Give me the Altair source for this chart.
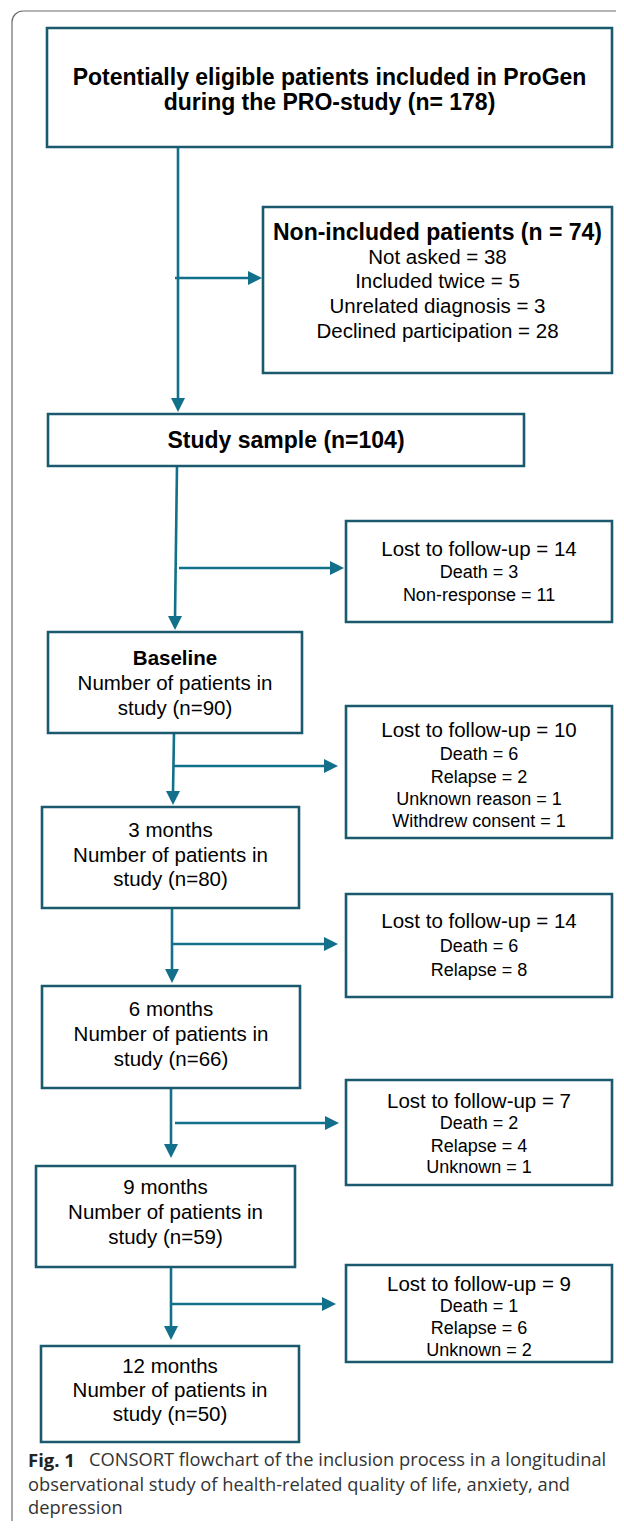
import altair as alt
import pandas as pd

# ---------------- data ----------------
eligible_n = 178
non_included_n = 74
non_included_reasons = ["Not asked", "Included twice", "Unrelated diagnosis", "Declined participation"]
non_included_counts = [38, 5, 3, 28]
study_n = 104
stages = ["Baseline", "3 months", "6 months", "9 months", "12 months"]
stage_n = [90, 80, 66, 59, 50]
lost_totals = [14, 10, 14, 7, 9]
lost_reasons = [
    ["Death", "Non-response"],
    ["Death", "Relapse", "Unknown reason", "Withdrew consent"],
    ["Death", "Relapse"],
    ["Death", "Relapse", "Unknown"],
    ["Death", "Relapse", "Unknown"],
]
lost_counts = [[3, 11], [6, 2, 1, 1], [6, 8], [2, 4, 1], [1, 6, 2]]

# ---------------- layout (page pixels) ----------------
BOX = "#1b5a6e"
ARROW = "#12708a"

top_box = dict(x=47, x2=612, y=28, y2=147, lines=[78, 103])
excl_box = dict(x=263, x2=612, y=207, y2=373, lines=[233, 258, 282, 307, 332])
sample_box = dict(x=48, x2=524, y=414, y2=466, lines=[441])
stage_boxes = [
    dict(x=48, x2=302, y=632, y2=733, lines=[659, 684, 709]),
    dict(x=42, x2=299, y=807, y2=908, lines=[831, 856, 880]),
    dict(x=42, x2=300, y=986, y2=1088, lines=[1010, 1035, 1060]),
    dict(x=36, x2=295, y=1166, y2=1267, lines=[1188, 1213, 1238]),
    dict(x=41, x2=299, y=1346, y2=1442, lines=[1367, 1391, 1415]),
]
lost_boxes = [
    dict(x=346, x2=612, y=521, y2=622, lines=[550, 573, 596]),
    dict(x=346, x2=612, y=706, y2=838, lines=[731, 755, 778, 800, 822]),
    dict(x=346, x2=612, y=894, y2=997, lines=[922, 947, 971]),
    dict(x=346, x2=612, y=1080, y2=1185, lines=[1102, 1124, 1147, 1168]),
    dict(x=346, x2=612, y=1265, y2=1362, lines=[1285, 1307, 1329, 1351]),
]
# trunks: (x_top, y_top, x_tip, y_tip); branches: (x_start, y, x_tip)
trunks = [(178, 147, 178, 412), (177, 466, 175, 630), (174, 733, 173, 805),
          (172, 908, 172, 983), (171, 1086, 171, 1158), (171, 1267, 171, 1340)]
branches = [(175, 278, 262), (179, 568, 344), (174, 766, 338), (173, 944, 338),
            (175, 1123, 339), (172, 1304, 336)]

BOLD_FS = 23
MAIN_FS = 20.5
SUB_FS = 18

# ---------------- build tables ----------------
boxes = [top_box, excl_box, sample_box] + stage_boxes + lost_boxes
box_df = pd.DataFrame([{k: b[k] for k in ("x", "x2", "y", "y2")} for b in boxes])

texts = []

def cx(b):
    return (b["x"] + b["x2"]) / 2

texts.append(dict(x=cx(top_box), y=top_box["lines"][0], t="Potentially eligible patients included in ProGen", fs=BOLD_FS, w="bold"))
texts.append(dict(x=cx(top_box), y=top_box["lines"][1], t=f"during the PRO-study (n= {eligible_n})", fs=BOLD_FS, w="bold"))
texts.append(dict(x=cx(excl_box), y=excl_box["lines"][0], t=f"Non-included patients (n = {non_included_n})", fs=BOLD_FS, w="bold"))
for i, (r, c) in enumerate(zip(non_included_reasons, non_included_counts)):
    texts.append(dict(x=cx(excl_box), y=excl_box["lines"][i + 1], t=f"{r} = {c}", fs=MAIN_FS, w="normal"))
texts.append(dict(x=cx(sample_box), y=sample_box["lines"][0], t=f"Study sample (n={study_n})", fs=BOLD_FS, w="bold"))
for i, (s, n) in enumerate(zip(stages, stage_n)):
    b = stage_boxes[i]
    texts.append(dict(x=cx(b), y=b["lines"][0], t=s, fs=MAIN_FS, w="bold" if i == 0 else "normal"))
    texts.append(dict(x=cx(b), y=b["lines"][1], t="Number of patients in", fs=MAIN_FS, w="normal"))
    texts.append(dict(x=cx(b), y=b["lines"][2], t=f"study (n={n})", fs=MAIN_FS, w="normal"))
for i, (tot, rs, cs) in enumerate(zip(lost_totals, lost_reasons, lost_counts)):
    b = lost_boxes[i]
    texts.append(dict(x=cx(b), y=b["lines"][0], t=f"Lost to follow-up = {tot}", fs=MAIN_FS, w="normal"))
    for j, (r, c) in enumerate(zip(rs, cs)):
        texts.append(dict(x=cx(b), y=b["lines"][j + 1], t=f"{r} = {c}", fs=SUB_FS, w="normal"))
text_df = pd.DataFrame(texts)

AH = 14  # arrowhead length
vline_df = pd.DataFrame([dict(x=a, y=b, x2=c, y2=d - AH + 2) for a, b, c, d in trunks])
hline_df = pd.DataFrame([dict(x=a, y=b, x2=c - AH + 2, y2=b) for a, b, c in branches])
down_df = pd.DataFrame([dict(x=c, y=d - AH / 2) for a, b, c, d in trunks])
right_df = pd.DataFrame([dict(x=c - AH / 2, y=b) for a, b, c in branches])

caption_df = pd.DataFrame([
    dict(x=28, y=1461, t="Fig. 1", w="bold"),
    dict(x=89, y=1461, t="CONSORT flowchart of the inclusion process in a longitudinal", w="normal"),
    dict(x=28, y=1486, t="observational study of health-related quality of life, anxiety, and", w="normal"),
    dict(x=28, y=1509, t="depression", w="normal"),
])
frame_df = pd.DataFrame([dict(x=12, x2=660, y=11, y2=1560)])

# ---------------- scales ----------------
W, H = 608, 1513
xs = alt.Scale(domain=[8, 8 + W], nice=False, zero=False)
ys = alt.Scale(domain=[8, 8 + H], nice=False, zero=False, reverse=True)
X = lambda f="x": alt.X(f"{f}:Q", scale=xs, axis=None)
Y = lambda f="y": alt.Y(f"{f}:Q", scale=ys, axis=None)

frame = alt.Chart(frame_df).mark_rect(
    fill=None, fillOpacity=0, stroke="#6b6b6b", strokeWidth=1.2, cornerRadius=11
).encode(x=X(), x2="x2:Q", y=Y(), y2="y2:Q")

rects = alt.Chart(box_df).mark_rect(
    fill="white", stroke=BOX, strokeWidth=2.6
).encode(x=X(), x2="x2:Q", y=Y(), y2="y2:Q")

vlines = alt.Chart(vline_df).mark_rule(color=ARROW, strokeWidth=2.6).encode(
    x=X(), x2="x2:Q", y=Y(), y2="y2:Q")
hlines = alt.Chart(hline_df).mark_rule(color=ARROW, strokeWidth=2.6).encode(
    x=X(), x2="x2:Q", y=Y(), y2="y2:Q")

down = alt.Chart(down_df).mark_point(
    shape="M-1,-1L1,-1L0,1Z", filled=True, fill=ARROW, fillOpacity=1, strokeWidth=0,
    size=AH * AH, opacity=1
).encode(x=X(), y=Y())
right = alt.Chart(right_df).mark_point(
    shape="M-1,-1L1,0L-1,1Z", filled=True, fill=ARROW, fillOpacity=1, strokeWidth=0,
    size=AH * AH, opacity=1
).encode(x=X(), y=Y())

def text_layer(weight):
    return alt.Chart(text_df[text_df.w == weight]).mark_text(
        font="Liberation Sans", fontWeight=weight, color="black",
        align="center", baseline="middle"
    ).encode(x=X(), y=Y(), text="t:N", size=alt.Size("fs:Q", scale=None, legend=None))

cap_bold = alt.Chart(caption_df[caption_df.w == "bold"]).mark_text(
    font="Open Sans", fontWeight="bold", fontSize=18.5, color="#222",
    align="left", baseline="middle"
).encode(x=X(), y=Y(), text="t:N")
cap_norm = alt.Chart(caption_df[caption_df.w == "normal"]).mark_text(
    font="Open Sans", fontSize=18.3, color="#333",
    align="left", baseline="middle"
).encode(x=X(), y=Y(), text="t:N")

chart = alt.layer(
    frame, vlines, hlines, down, right, rects,
    text_layer("bold"), text_layer("normal"), cap_bold, cap_norm
).properties(
    width=W, height=H, padding=0, autosize=alt.AutoSizeParams(type="none")
).configure_view(stroke=None)

chart.save("out.html", embed_options={"renderer": "svg", "actions": False})
